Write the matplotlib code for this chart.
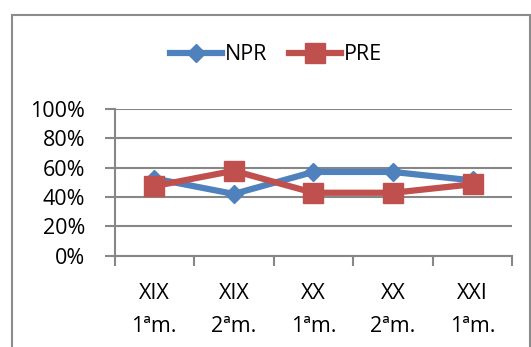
import matplotlib
matplotlib.use("Agg")
import matplotlib.pyplot as plt
from matplotlib.patches import Rectangle
from matplotlib.ticker import FixedLocator, PercentFormatter

# Share of each group per period (NPR + PRE = 100 %)
periods = ["XIX\n1ªm.", "XIX\n2ªm.", "XX\n1ªm.", "XX\n2ªm.", "XXI\n1ªm."]
npr = [52.6, 42.1, 57.1, 57.1, 51.3]
pre = [47.4, 57.9, 42.9, 42.9, 48.7]
y_ticks = [0, 20, 40, 60, 80, 100]

BLUE = "#4F81BD"
RED = "#C0504D"
GRID = "#878787"

plt.rcParams["font.family"] = ["Open Sans", "DejaVu Sans"]
FS = 15.5

W, H = 531, 347
fig = plt.figure(figsize=(W / 100, H / 100), dpi=100)

# outer chart frame
fig.patches.append(Rectangle((12 / W, -0.05), (530 - 12) / W, (H - 15) / H + 0.05,
                             transform=fig.transFigure, fill=False,
                             edgecolor="#8c8c8c", linewidth=1.5))

left, right, top, bottom = 114.5, 512.3, 109, 255.7
ax = fig.add_axes([left / W, 1 - bottom / H, (right - left) / W, (bottom - top) / H])

x = list(range(len(periods)))
ax.plot(x, npr, color=BLUE, lw=4.5, marker="D", ms=9.5, label="NPR", zorder=3)
ax.plot(x, pre, color=RED, lw=4.5, marker="s", ms=14.5, label="PRE", zorder=4)

ax.set_xlim(-0.5, len(periods) - 0.5)
ax.set_ylim(0, 100)

ax.yaxis.set_major_locator(FixedLocator(y_ticks))
ax.yaxis.set_major_formatter(PercentFormatter(decimals=0))
ax.grid(axis="y", color=GRID, lw=1.5)
ax.set_axisbelow(True)

ax.set_xticks([i - 0.5 for i in range(len(periods) + 1)])
ax.set_xticklabels([])
ax.set_xticks(x, minor=True)
ax.set_xticklabels(periods, minor=True, fontsize=FS, linespacing=1.75)
ax.tick_params(axis="x", which="minor", length=0, pad=20)
ax.tick_params(axis="x", which="major", length=7, width=1.5, color=GRID)
ax.tick_params(axis="y", length=7, width=1.5, color=GRID, labelsize=FS, pad=14)

for side in ("top", "right"):
    ax.spines[side].set_visible(False)
for side in ("left", "bottom"):
    ax.spines[side].set_color(GRID)
    ax.spines[side].set_linewidth(1.5)

fig.legend(loc="center", bbox_to_anchor=(276 / W, 1 - 55 / H), ncol=2,
           frameon=False, fontsize=FS, handlelength=2.4, handletextpad=0.15,
           columnspacing=1.0, borderaxespad=0)

fig.savefig("out.png", dpi=100)
